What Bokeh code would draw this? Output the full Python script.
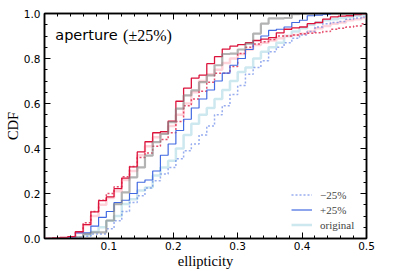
import math
import numpy as np
from bokeh.plotting import figure
from bokeh.models import (Range1d, LinearAxis, FixedTicker, Legend,
                          LegendItem, PrintfTickFormatter, CustomJSTickFormatter, Label)
from bokeh.embed import file_html
from bokeh.resources import INLINE

# ---------------- data (CDF value in each ellipticity bin) ----------------
bin_width = 0.012
n_bins = 42
edges = [round(k * bin_width, 4) for k in range(n_bins + 1)]

blue_minus = [0, 0, 0, 0, 0.005, 0.01, 0.02, 0.02, 0.043, 0.079, 0.12, 0.16, 0.19, 0.225,
              0.257, 0.287, 0.316, 0.354, 0.39, 0.42, 0.46, 0.5, 0.55, 0.59, 0.64, 0.68,
              0.73, 0.76, 0.79, 0.83, 0.85, 0.87, 0.89, 0.905, 0.92, 0.94, 0.955, 0.96,
              0.965, 0.975, 0.98, 0.985]
blue_plus = [0, 0, 0, 0.003, 0.025, 0.025, 0.055, 0.094, 0.12, 0.16, 0.17, 0.2, 0.25, 0.26,
             0.3, 0.37, 0.42, 0.48, 0.53, 0.58, 0.62, 0.66, 0.7, 0.735, 0.77, 0.8, 0.84,
             0.88, 0.9, 0.925, 0.93, 0.94, 0.96, 0.97, 0.99, 0.993, 0.996, 1, 1, 1, 1, 1]
blue_orig = [0, 0, 0, 0, 0.005, 0.015, 0.03, 0.05, 0.079, 0.1, 0.153, 0.175, 0.213, 0.227,
             0.28, 0.316, 0.346, 0.4, 0.46, 0.51, 0.55, 0.58, 0.62, 0.66, 0.7, 0.74, 0.76,
             0.8, 0.83, 0.85, 0.87, 0.9, 0.92, 0.935, 0.95, 0.96, 0.97, 0.975, 0.98, 0.985,
             0.99, 0.995]
red_minus = [0, 0, 0, 0.005, 0.03, 0.07, 0.12, 0.17, 0.2, 0.23, 0.275, 0.32, 0.36, 0.38,
             0.41, 0.44, 0.47, 0.52, 0.59, 0.62, 0.655, 0.695, 0.735, 0.735, 0.765, 0.822,
             0.85, 0.865, 0.875, 0.885, 0.9, 0.9, 0.905, 0.91, 0.912, 0.915, 0.92, 0.93,
             0.935, 0.94, 0.945, 0.955]
red_plus = [0, 0.003, 0.005, 0.008, 0.03, 0.062, 0.118, 0.168, 0.185, 0.222, 0.268, 0.318,
            0.385, 0.43, 0.47, 0.475, 0.522, 0.61, 0.668, 0.713, 0.726, 0.777, 0.808, 0.842,
            0.855, 0.862, 0.87, 0.88, 0.886, 0.893, 0.914, 0.93, 0.936, 0.94, 0.955, 0.96,
            0.975, 0.985, 0.988, 0.99, 0.995, 0.998]
red_orig = [0, 0, 0, 0.005, 0.025, 0.06, 0.1, 0.15, 0.18, 0.21, 0.26, 0.3, 0.37, 0.41, 0.45,
            0.47, 0.5, 0.55, 0.6, 0.65, 0.7, 0.73, 0.75, 0.78, 0.8, 0.82, 0.84, 0.86, 0.87,
            0.88, 0.89, 0.9, 0.905, 0.91, 0.92, 0.935, 0.945, 0.955, 0.96, 0.97, 0.975, 0.98]
grey_ref = [0, 0, 0, 0, 0.005, 0.02, 0.027, 0.027, 0.08, 0.153, 0.205, 0.272, 0.316, 0.368,
            0.428, 0.465, 0.517, 0.577, 0.636, 0.658, 0.695, 0.725, 0.77, 0.82, 0.822, 0.84,
            0.866, 0.911, 0.955, 0.978, 0.978, 0.98, 0.997, 1, 1, 1, 1, 1, 1, 1, 1, 1]

x_major = [0.1, 0.2, 0.3, 0.4, 0.5]
x_minor = [round(0.02 * k, 3) for k in range(1, 26)]
y_major = [0.0, 0.2, 0.4, 0.6, 0.8, 1.0]
y_minor = [round(0.05 * k, 3) for k in range(0, 21)]
legend_labels = ["\u221225%", "+25%", "original"]

SERIF = "Liberation Serif"
SANS = "DejaVu Sans"

p = figure(width=407, height=271, output_backend="svg", toolbar_location=None,
           x_range=Range1d(0, 0.5), y_range=Range1d(0, 1.0),
           min_border_left=44, min_border_right=41, min_border_top=13,
           min_border_bottom=33)
p.grid.visible = False
p.outline_line_color = "black"
p.outline_line_width = 1.5
p.background_fill_color = "white"
p.border_fill_color = "white"

def ext(v):
    return list(v) + [v[-1]]

def style_axis(ax, ticks, minor, labels=True):
    ax.ticker = FixedTicker(ticks=ticks, minor_ticks=minor)
    ax.major_tick_in = 6
    ax.major_tick_out = 0
    ax.minor_tick_in = 3
    ax.minor_tick_out = 0
    ax.major_tick_line_width = 1
    ax.minor_tick_line_width = 1
    ax.axis_line_width = 1.5
    ax.axis_line_color = "black"
    if labels:
        ax.major_label_text_font = SANS
        ax.major_label_text_font_size = "10.5px"
        ax.major_label_text_color = "black"
        ax.axis_label_text_font = SERIF
        ax.axis_label_text_font_style = "normal"
        ax.axis_label_text_font_size = "14.5px"
        ax.axis_label_text_color = "black"
        ax.axis_label_standoff = 0
    else:
        ax.formatter = CustomJSTickFormatter(code="return ''")
        ax.major_label_standoff = 0

style_axis(p.xaxis[0], x_major, x_minor)
style_axis(p.yaxis[0], y_major, y_minor)
p.xaxis[0].major_label_standoff = 3
p.yaxis[0].major_label_standoff = 4
p.yaxis[0].formatter = PrintfTickFormatter(format="%.1f")
p.xaxis[0].formatter = PrintfTickFormatter(format="%.1f")
p.xaxis[0].axis_label = "ellipticity"
p.yaxis[0].axis_label = "CDF"

top_ax = LinearAxis()
style_axis(top_ax, x_major, x_minor, labels=False)
p.add_layout(top_ax, "above")
right_ax = LinearAxis()
style_axis(right_ax, y_major, y_minor, labels=False)
p.add_layout(right_ax, "right")

xs = edges
r_bo = p.step(xs, ext(blue_orig), mode="after", line_color="lightblue", line_width=2.5, line_alpha=0.6)
r_ro = p.step(xs, ext(red_orig), mode="after", line_color="pink", line_width=2.5, line_alpha=0.7)
r_bm = p.step(xs, ext(blue_minus), mode="after", line_color="royalblue", line_width=1.5,
              line_alpha=0.55, line_dash="2 2")
r_rm = p.step(xs, ext(red_minus), mode="after", line_color="crimson", line_width=1.5,
              line_alpha=0.75, line_dash="2 2")
r_bp = p.step(xs, ext(blue_plus), mode="after", line_color="royalblue", line_width=1.2)
r_rp = p.step(xs, ext(red_plus), mode="after", line_color="crimson", line_width=1.3)
r_gr = p.step(xs, ext(grey_ref), mode="after", line_color="grey", line_width=2.2, line_alpha=0.6)

legend = Legend(items=[LegendItem(label=legend_labels[0], renderers=[r_bm]),
                       LegendItem(label=legend_labels[1], renderers=[r_bp]),
                       LegendItem(label=legend_labels[2], renderers=[r_bo])],
                location=(247, 6), border_line_color=None, background_fill_alpha=0,
                label_text_font=SERIF, label_text_font_size="11px",
                glyph_width=21, glyph_height=15, label_height=15, label_standoff=8,
                spacing=0, padding=0, margin=0)
p.add_layout(legend)

p.add_layout(Label(x=0.0167, y=0.903, text="aperture", text_font=SANS,
                   text_font_size="14.5px", text_color="black", text_baseline="alphabetic"))
p.add_layout(Label(x=0.122, y=0.903, text="(\u00b125%)", text_font=SERIF,
                   text_font_size="16px", text_color="black", text_baseline="alphabetic"))

open("out.html", "w").write(file_html(p, INLINE))
